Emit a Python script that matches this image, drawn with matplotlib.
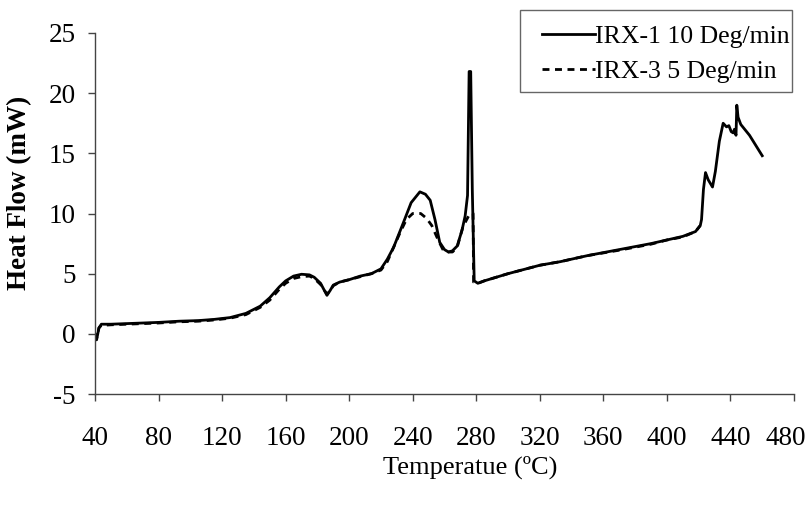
import matplotlib
matplotlib.use("Agg")
import matplotlib.pyplot as plt
from matplotlib.patches import Rectangle
from matplotlib.transforms import ScaledTranslation

# IRX-1, 10 Deg/min (solid)
temp_irx1 = [40, 41, 42.5, 44, 50, 60, 70, 80, 93, 105, 115, 125, 135, 144, 150,
             156, 160, 165, 170, 175, 178, 182, 186, 188, 190, 194, 200, 207, 214,
             220, 224, 228, 234, 239, 244.5, 248, 251, 254, 257, 260, 262.5, 265,
             268, 271, 273, 274.5, 275.5, 276.5, 277.5, 278.7, 281, 285, 290, 300,
             320, 333, 350, 370, 390, 400, 410, 418, 421, 421.8, 423, 424.3, 426,
             428.7, 430.5, 433, 435.4, 437.5, 439, 440.5, 441.7, 442.5, 443.5, 444,
             444.8, 446.5, 452, 460]
hf_irx1 = [0, -0.5, 0.5, 0.8, 0.8, 0.85, 0.9, 0.95, 1.05, 1.1, 1.2, 1.35, 1.7, 2.3,
           3.0, 3.9, 4.4, 4.8, 4.95, 4.9, 4.7, 4.2, 3.2, 3.6, 4.05, 4.3, 4.5, 4.8,
           5.0, 5.4, 6.2, 7.2, 9.2, 10.9, 11.8, 11.6, 11.1, 9.5, 7.6, 7.0, 6.8, 6.9,
           7.3, 8.6, 9.8, 11.5, 21.8, 21.8, 12.0, 4.4, 4.2, 4.4, 4.6, 5.0, 5.7, 6.0,
           6.5, 7.0, 7.5, 7.8, 8.1, 8.5, 9.0, 9.5, 12.0, 13.4, 12.8, 12.2, 13.5,
           16.0, 17.5, 17.2, 17.3, 16.8, 16.7, 17.0, 16.5, 19.0, 18.0, 17.4, 16.5,
           14.8]

# IRX-3, 5 Deg/min (dashed)
temp_irx3 = [40, 41, 42.5, 44, 50, 60, 70, 80, 93, 105, 115, 125, 135, 144, 150,
             156, 160, 165, 170, 175, 178, 182, 186, 188, 190, 194, 200, 207, 214,
             220, 224, 228, 232, 236, 240, 245, 248.7, 252, 256, 259, 261.5, 265,
             268, 271.6, 274, 276, 278, 278.3, 281, 285, 290, 300, 320, 333, 350,
             370, 390, 400, 410, 418, 421]
hf_irx3 = [0, -0.4, 0.5, 0.7, 0.75, 0.8, 0.85, 0.9, 1.0, 1.05, 1.15, 1.3, 1.6, 2.2,
           2.8, 3.7, 4.2, 4.6, 4.75, 4.8, 4.6, 4.1, 3.3, 3.6, 4.0, 4.3, 4.5, 4.75,
           5.0, 5.3, 6.0, 7.2, 8.4, 9.5, 10.0, 10.0, 9.6, 9.0, 7.8, 7.0, 6.8, 6.8,
           7.2, 8.9, 9.5, 10.0, 10.0, 4.3, 4.2, 4.4, 4.6, 5.0, 5.7, 6.0, 6.5, 6.95,
           7.45, 7.8, 8.05, 8.5, 9.0]

x_ticks = list(range(40, 481, 40))
y_ticks = list(range(-5, 26, 5))

plt.rcParams["font.family"] = ["Liberation Serif", "DejaVu Serif"]
plt.rcParams["axes.unicode_minus"] = False

W, H = 812, 508
fig = plt.figure(figsize=(W / 100, H / 100), dpi=100)
ax = fig.add_axes([95 / W, 1 - 394 / H, (794 - 95) / W, (394 - 33) / H])

ax.plot(temp_irx1, hf_irx1, color="black", lw=2.0, label="IRX-1 10 Deg/min")
ax.plot(temp_irx3, hf_irx3, color="black", lw=2.0, ls=(0, (2.5, 2.0)),
        label="IRX-3 5 Deg/min")

ax.set_xlim(40, 480)
ax.set_ylim(-5, 25)
ax.set_xticks(x_ticks)
ax.set_yticks(y_ticks)

for side in ("top", "right"):
    ax.spines[side].set_visible(False)
for side in ("left", "bottom"):
    ax.spines[side].set_color("#444444")
    ax.spines[side].set_linewidth(1.0)

ax.tick_params(axis="both", direction="out", length=5, width=1.0, color="#444444",
               labelsize=19.5)
ax.tick_params(axis="x", pad=18)
ax.tick_params(axis="y", pad=9)

# last x label sits a little inside the figure edge, as in the original
last = ax.get_xticklabels()[-1]
last.set_transform(last.get_transform() + ScaledTranslation(-8 / 100, 0, fig.dpi_scale_trans))

fig.text(470 / W, 1 - 467 / H, "Temperatue (ºC)", ha="center", va="center",
         fontsize=19)
fig.text(20 / W, 1 - 193 / H, "Heat Flow (mW)", ha="center", va="center",
         rotation=90, fontsize=19.5, fontweight="bold")

# legend: frameless entries plus a separate box (text hugs the right edge)
leg = ax.legend(loc="upper right", bbox_to_anchor=(790 / W, 1 - 25 / H),
                bbox_transform=fig.transFigure, borderaxespad=0, borderpad=0,
                fontsize=18.5, frameon=False, handlelength=2.06,
                handletextpad=0.0, labelspacing=0.48)
fig.patches.append(Rectangle((520 / W, 1 - 92 / H), (792 - 520) / W, (92 - 10) / H,
                             transform=fig.transFigure, fill=False,
                             edgecolor="#666666", lw=1.0))

fig.savefig("out.png", dpi=100)
